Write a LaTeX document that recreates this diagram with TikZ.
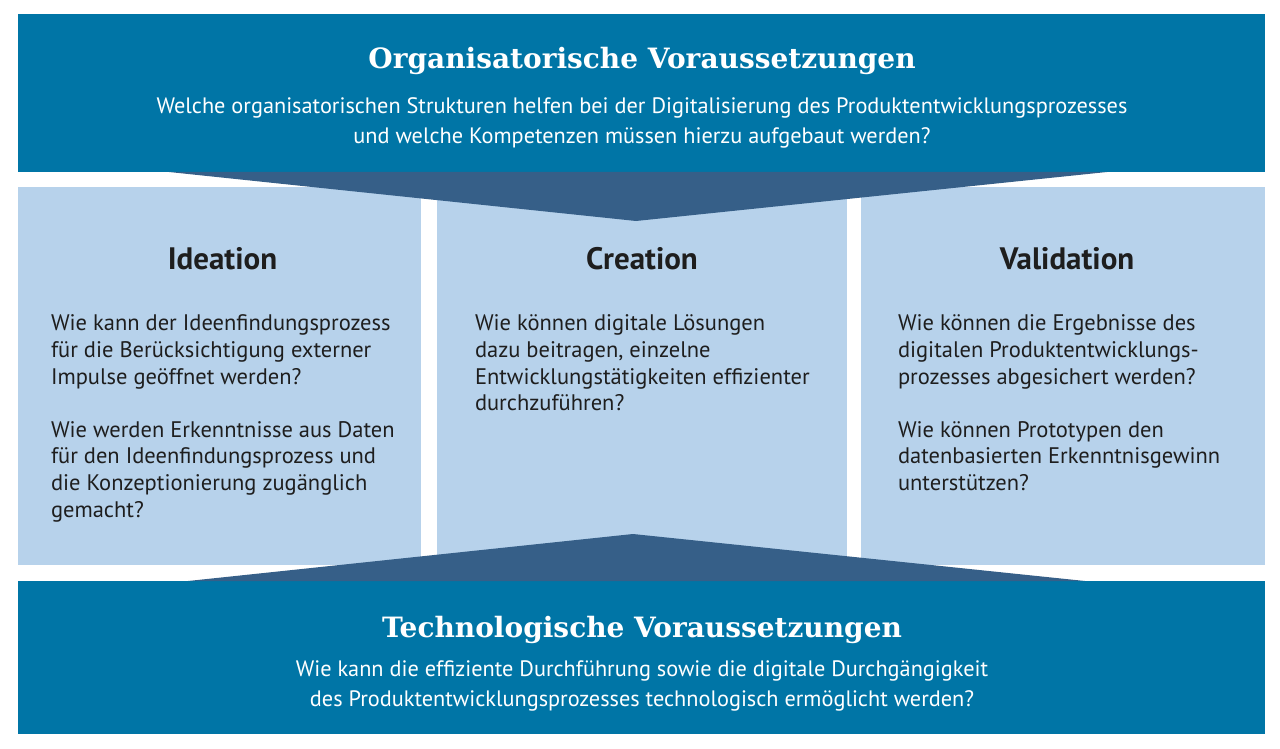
\documentclass[tikz,border=0pt]{standalone}
\usepackage{fontspec}
\setmainfont{PT Sans}
\newfontfamily\headfont{DejaVu Serif}
\usetikzlibrary{positioning}
\definecolor{barblue}{HTML}{0075A6}
\definecolor{arrowblue}{HTML}{365F88}
\definecolor{lightblue}{HTML}{B7D2EB}
\definecolor{darktext}{HTML}{1E1E1E}
\newcommand\G{16}

\begin{document}
\begin{tikzpicture}[x=1pt,y=-1pt,inner sep=0pt,outer sep=0pt]

  \tikzstyle{bar}=[rectangle,fill=barblue,minimum width=1247pt,anchor=north west]
  \tikzstyle{col}=[rectangle,fill=lightblue,minimum height=378pt,anchor=north west]
  \tikzstyle{title}=[text=white,font=\headfont\bfseries\fontsize{28}{34}\selectfont,anchor=base]
  \tikzstyle{sub}=[text=white,align=center,font=\fontsize{22.3}{30}\selectfont,anchor=north]
  \tikzstyle{colhead}=[text=darktext,font=\bfseries\fontsize{31}{36}\selectfont,anchor=base]
  \tikzstyle{colbody}=[text=darktext,align=left,font=\fontsize{22.5}{26.6}\selectfont,anchor=north west]

  \useasboundingbox (0,0) rectangle (1280,749);

  % columns
  \node[col,minimum width=403pt] (IDE) at (18,187) {};
  \node[col,minimum width=410pt,right=\G pt of IDE] (CRE) {};
  \node[col,minimum width=404pt,right=14pt of CRE] (VAL) {};

  % bars with their wedges
  \node[bar,minimum height=158pt] (ORG) at (18,14) {};
  \node[bar,minimum height=153pt] (TEC) at (18,581) {};
  \fill[arrowblue] (169,172) -- (1107,172) -- (636,221) -- cycle;
  \fill[arrowblue] (188,581) -- (1085,581) -- (633,534) -- cycle;

  \node[title] (ORGt) at (642,69) {Organisatorische Voraussetzungen};
  \node[sub]   (ORGs) at (642,98) {Welche organisatorischen Strukturen helfen bei der Digitalisierung des Produktentwicklungsprozesses\\
                                   und welche Kompetenzen müssen hierzu aufgebaut werden?};

  \node[title] (TECt) at (642,637) {Technologische Voraussetzungen};
  \node[sub]   (TECs) at (642,661) {Wie kann die effiziente Durchführung sowie die digitale Durchgängigkeit\\
                                   des Produktentwicklungsprozesses technologisch ermöglicht werden?};

  \node[colhead] (IDEh) at ([xshift=3pt,yshift=-82pt]IDE.north) {Ideation};
  \node[colhead] (CREh) at ([yshift=-82pt]CRE.north) {Creation};
  \node[colhead] (VALh) at ([xshift=4pt,yshift=-82pt]VAL.north) {Validation};

  \node[colbody] (IDEb) at (51,315)  {Wie kann der Ideenfindungsprozess\\ für die Berücksichtigung externer\\ Impulse geöffnet werden?\\[26.6pt]
                                      Wie werden Erkenntnisse aus Daten\\ für den Ideenfindungsprozess und\\ die Konzeptionierung zugänglich\\ gemacht?};
  \node[colbody] (CREb) at (475,315) {Wie können digitale Lösungen\\ dazu beitragen, einzelne\\ Entwicklungstätigkeiten effizienter\\ durchzuführen?};
  \node[colbody] (VALb) at (898,315) {Wie können die Ergebnisse des\\ digitalen Produktentwicklungs-\\ prozesses abgesichert werden?\\[26.6pt]
                                      Wie können Prototypen den\\ datenbasierten Erkenntnisgewinn\\ unterstützen?};
\end{tikzpicture}
\end{document}
